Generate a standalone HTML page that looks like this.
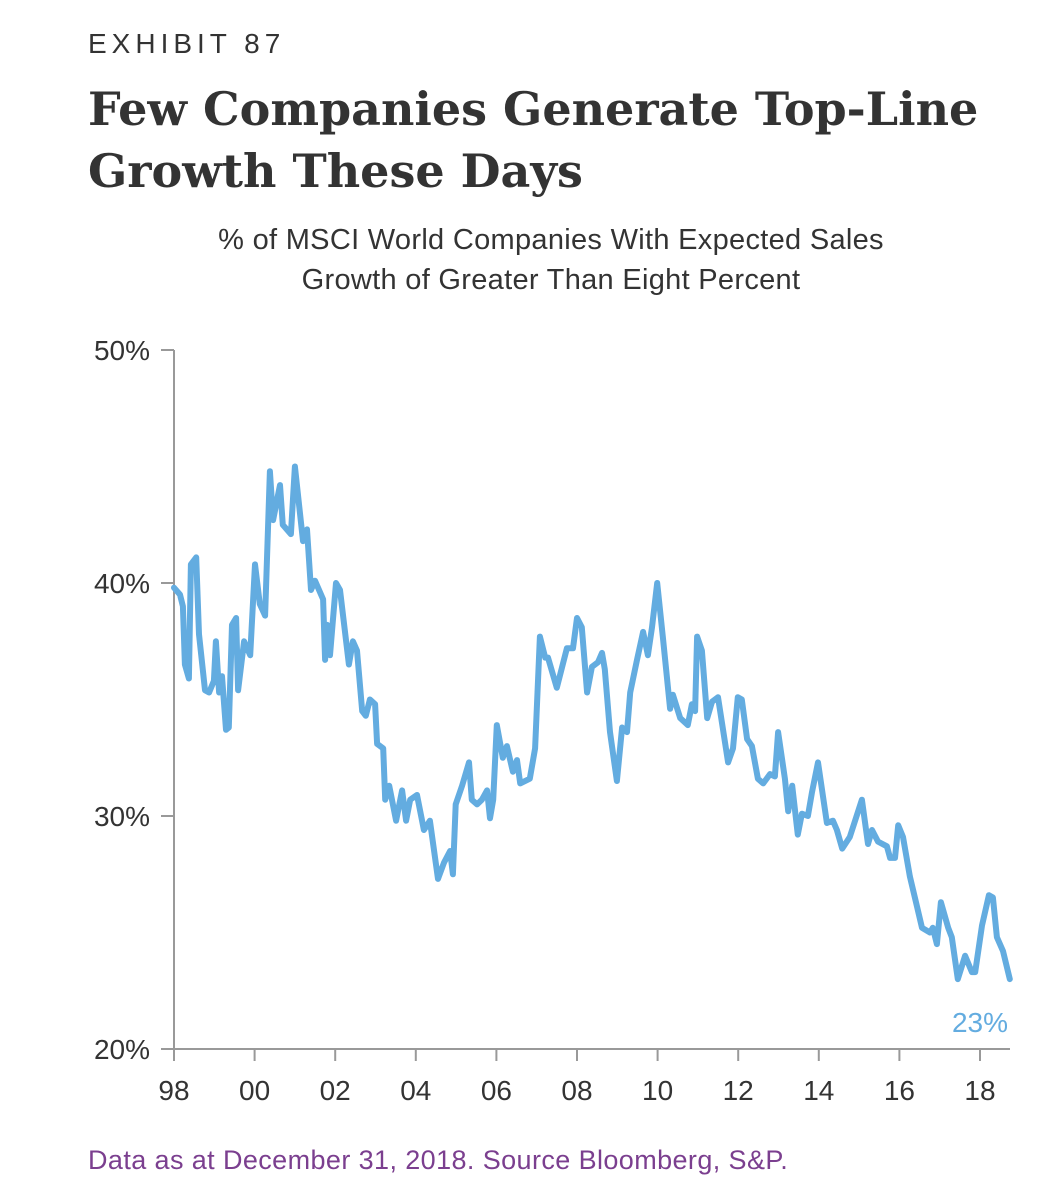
<!DOCTYPE html>
<html><head><meta charset="utf-8"><style>
body{margin:0;background:#fff;width:1051px;height:1200px;overflow:hidden;font-family:"Liberation Sans",sans-serif;color:#333}
.t{position:absolute;white-space:nowrap}
</style></head><body>
<div class="t" style="left:88px;top:28px;font-size:28px;letter-spacing:5px;color:#333">EXHIBIT 87</div>
<div class="t" style="left:88px;top:78px;font-family:'DejaVu Serif',serif;font-weight:bold;font-size:46px;line-height:62px;color:#333">Few Companies Generate Top-Line<br>Growth These Days</div>
<div class="t" style="left:0;width:1102px;text-align:center;top:220px;font-size:29px;line-height:40px;letter-spacing:0.3px;color:#333">% of MSCI World Companies With Expected Sales<br>Growth of Greater Than Eight Percent</div>
<svg width="1051" height="1200" style="position:absolute;left:0;top:0">
<g id="axes"></g><g id="series"></g>
</svg>
<div class="t" style="left:88px;top:1145px;font-size:27px;letter-spacing:0.4px;color:#7b3f8f">Data as at December 31, 2018. Source Bloomberg, S&amp;P.</div>
<script>
const years=[1998.00,1998.15,1998.22,1998.27,1998.37,1998.42,1998.55,1998.62,1998.77,1998.87,1998.99,1999.04,1999.12,1999.19,1999.29,1999.36,1999.44,1999.54,1999.59,1999.74,1999.89,2000.01,2000.13,2000.26,2000.38,2000.46,2000.63,2000.70,2000.90,2001.00,2001.20,2001.30,2001.40,2001.50,2001.70,2001.75,2001.80,2001.87,2002.02,2002.12,2002.34,2002.44,2002.54,2002.67,2002.76,2002.86,2002.99,2003.04,2003.19,2003.24,2003.34,2003.51,2003.66,2003.76,2003.86,2004.03,2004.20,2004.35,2004.55,2004.70,2004.85,2004.92,2004.99,2005.15,2005.32,2005.39,2005.52,2005.64,2005.77,2005.84,2005.92,2006.01,2006.16,2006.26,2006.41,2006.51,2006.59,2006.83,2006.96,2007.08,2007.21,2007.28,2007.50,2007.75,2007.90,2008.00,2008.12,2008.25,2008.37,2008.52,2008.62,2008.69,2008.82,2008.99,2009.12,2009.24,2009.32,2009.49,2009.64,2009.76,2009.86,2009.99,2010.13,2010.31,2010.38,2010.56,2010.75,2010.85,2010.93,2010.98,2011.10,2011.23,2011.35,2011.50,2011.75,2011.87,2011.99,2012.09,2012.22,2012.34,2012.49,2012.62,2012.79,2012.91,2012.99,2013.16,2013.24,2013.34,2013.48,2013.58,2013.73,2013.83,2013.98,2014.20,2014.35,2014.45,2014.58,2014.77,2015.07,2015.22,2015.32,2015.47,2015.69,2015.77,2015.89,2015.97,2016.09,2016.26,2016.44,2016.56,2016.76,2016.83,2016.93,2017.03,2017.21,2017.30,2017.45,2017.63,2017.80,2017.88,2018.05,2018.22,2018.32,2018.42,2018.57,2018.74];
const values=[39.8,39.5,39.0,36.5,35.9,40.8,41.1,37.8,35.4,35.3,35.8,37.5,35.3,36.0,33.7,33.8,38.2,38.5,35.4,37.5,36.9,40.8,39.1,38.6,44.8,42.7,44.2,42.5,42.1,45.0,41.8,42.3,39.7,40.1,39.3,36.7,38.2,36.9,40.0,39.7,36.5,37.5,37.1,34.5,34.3,35.0,34.8,33.1,32.9,30.7,31.3,29.8,31.1,29.8,30.7,30.9,29.4,29.8,27.3,28.0,28.5,27.5,30.5,31.3,32.3,30.7,30.5,30.7,31.1,29.9,30.7,33.9,32.5,33.0,31.9,32.4,31.4,31.6,32.9,37.7,36.8,36.8,35.5,37.2,37.2,38.5,38.1,35.3,36.4,36.6,37.0,36.3,33.6,31.5,33.8,33.6,35.3,36.7,37.9,36.9,38.1,40.0,37.7,34.6,35.2,34.2,33.9,34.8,34.5,37.7,37.1,34.2,34.9,35.1,32.3,32.9,35.1,35.0,33.3,33.0,31.6,31.4,31.8,31.7,33.6,31.6,30.2,31.3,29.2,30.1,30.0,31.0,32.3,29.7,29.8,29.4,28.6,29.1,30.7,28.8,29.4,28.9,28.7,28.2,28.2,29.6,29.1,27.4,26.1,25.2,25.0,25.2,24.5,26.3,25.2,24.8,23.0,24.0,23.3,23.3,25.3,26.6,26.5,24.8,24.2,23.0];
const yTicks=[20,30,40,50];
const xTickYears=[1998,2000,2002,2004,2006,2008,2010,2012,2014,2016,2018];
const xTickLabels=["98","00","02","04","06","08","10","12","14","16","18"];
const endLabel="23%";
const NS="http://www.w3.org/2000/svg";
const X=t=>174+(t-1998)*40.3;
const Y=v=>1049-(v-20)*23.3;
function mk(tag,attrs,parent){const e=document.createElementNS(NS,tag);for(const k in attrs)e.setAttribute(k,attrs[k]);parent.appendChild(e);return e;}
const ax=document.getElementById('axes'),se=document.getElementById('series');
let l=mk('line',{x1:174,y1:Y(50),x2:174,y2:Y(20),stroke:'#999','stroke-width':2},ax);


l=mk('line',{x1:174,y1:Y(20),x2:1010,y2:Y(20),stroke:'#999','stroke-width':2},ax);


yTicks.forEach(v=>{
 const tk=mk('line',{x1:161,y1:Y(v),x2:174,y2:Y(v),stroke:'#999','stroke-width':2},ax);
 
 
 const tx=mk('text',{x:150,y:Y(v)+10,'text-anchor':'end','font-size':28,fill:'#333','font-family':'Liberation Sans, sans-serif'},ax);
 tx.textContent=v+'%';
 
 
});
xTickYears.forEach((t,i)=>{
 const tk=mk('line',{x1:X(t),y1:Y(20),x2:X(t),y2:Y(20)+12,stroke:'#999','stroke-width':2},ax);
 
 
 const tx=mk('text',{x:X(t),y:1100,'text-anchor':'middle','font-size':28,fill:'#333','font-family':'Liberation Sans, sans-serif'},ax);
 tx.textContent=xTickLabels[i];
 
 
});
const d=years.map((t,i)=>(i?'L':'M')+X(t).toFixed(1)+','+Y(values[i]).toFixed(1)).join(' ');
const p=mk('path',{d:d,fill:'none',stroke:'#63ace0','stroke-width':6,'stroke-linejoin':'round','stroke-linecap':'round'},se);


const el=mk('text',{x:1008,y:1032,'text-anchor':'end','font-size':28,fill:'#63ace0','font-family':'Liberation Sans, sans-serif'},se);
el.textContent=endLabel;


</script>
</body></html>
